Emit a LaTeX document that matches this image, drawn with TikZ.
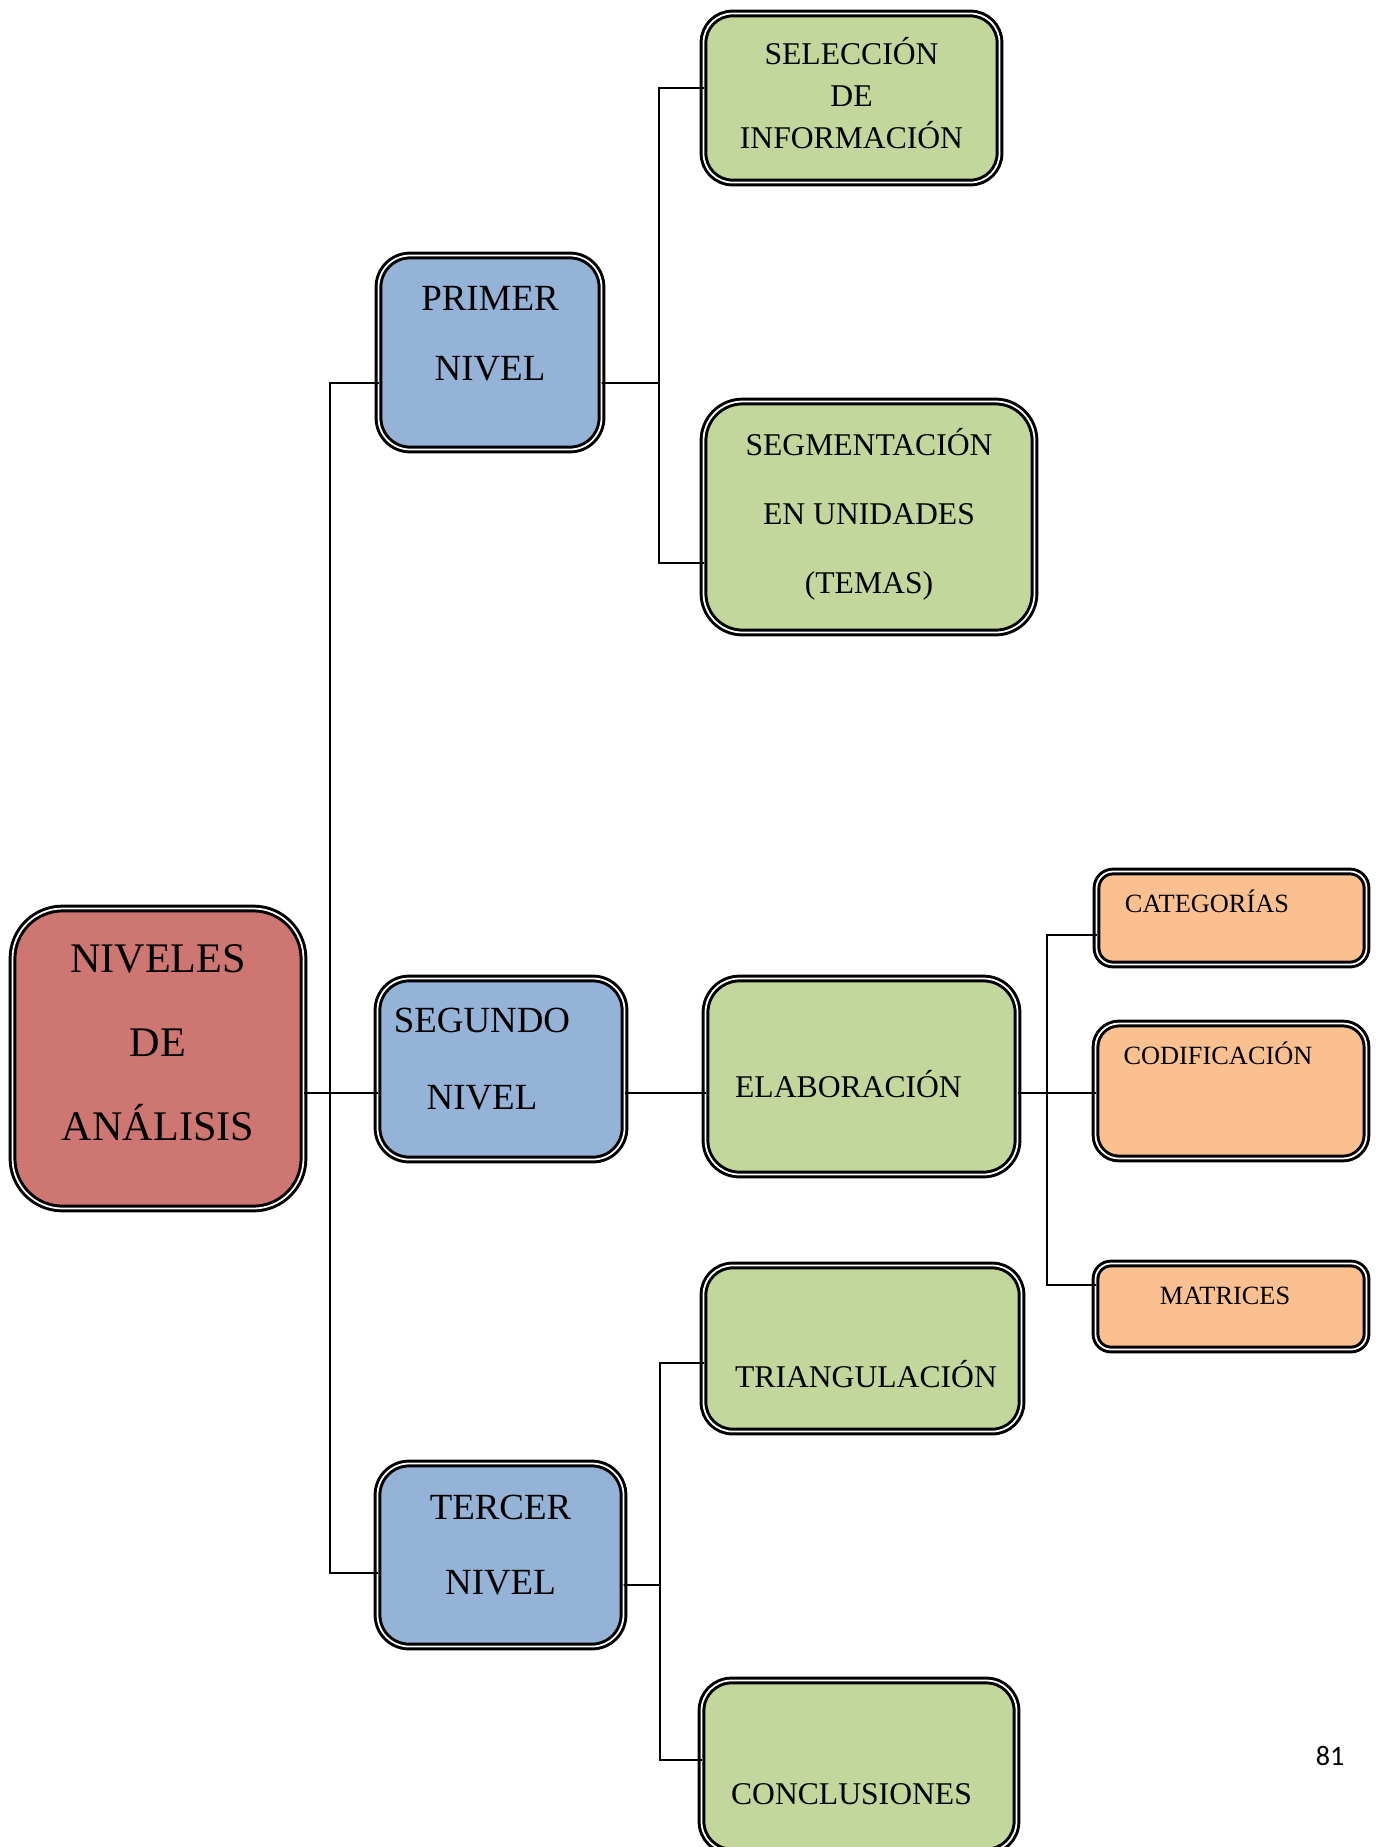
\documentclass[tikz,border=0pt]{standalone}
\usepackage{fontspec}
\setmainfont{Liberation Serif}
\newfontfamily\paginafont{Carlito}
\usetikzlibrary{calc,positioning}
\definecolor{rojo}{RGB}{205,118,114}
\definecolor{azul}{RGB}{149,179,215}
\definecolor{verde}{RGB}{195,214,155}
\definecolor{naranja}{RGB}{250,192,144}

\begin{document}
\begin{tikzpicture}

    \tikzstyle{caja}=[draw,line width=1.7pt,double=white,double distance=1pt,outer sep=0pt,inner sep=0pt]
    \tikzstyle{rotulo}=[align=center,inner sep=0pt]
    \tikzstyle{linea}=[line width=1pt]
     \useasboundingbox (0,0) rectangle (27.54,-36.94);
      \coordinate (origo) at (0,0);

\node (analisis) [caja,fill=rojo,rounded corners=1cm,minimum width=5.82cm,minimum height=6cm,xshift=3.16cm,yshift=-21.17cm,label={[rotulo,font=\fontsize{24}{47.8}\selectfont,yshift=0.32cm]center:{NIVELES\\DE\\ANÁLISIS}}] at (origo) {};

\node (nivel_1) [caja,fill=azul,rounded corners=0.63cm,minimum width=4.46cm,minimum height=3.88cm,xshift=9.8cm,yshift=-7.05cm,label={[rotulo,font=\fontsize{21}{39.8}\selectfont,yshift=0.38cm]center:{PRIMER\\NIVEL}}] at (origo) {};
\node (nivel_2) [caja,fill=azul,rounded corners=0.63cm,minimum width=4.94cm,minimum height=3.62cm,xshift=10.02cm,yshift=-21.38cm,label={[rotulo,font=\fontsize{21}{43.8}\selectfont,xshift=-0.38cm,yshift=0.19cm]center:{SEGUNDO\\NIVEL}}] at (origo) {};
\node (nivel_3) [caja,fill=azul,rounded corners=0.63cm,minimum width=4.92cm,minimum height=3.66cm,xshift=10.01cm,yshift=-31.1cm,label={[rotulo,font=\fontsize{21}{43.2}\selectfont,yshift=0.2cm]center:{TERCER\\NIVEL}}] at (origo) {};

\node (seleccion) [caja,fill=verde,rounded corners=0.58cm,minimum width=5.92cm,minimum height=3.38cm,xshift=17.03cm,yshift=-1.96cm,label={[rotulo,font=\fontsize{18}{23.9}\selectfont,yshift=0.09cm]center:{SELECCIÓN\\DE\\INFORMACIÓN}}] at (origo) {};
\node (segmentacion) [caja,fill=verde,rounded corners=0.78cm,minimum width=6.62cm,minimum height=4.62cm,xshift=17.38cm,yshift=-10.34cm,label={[rotulo,font=\fontsize{18}{39.2}\selectfont,yshift=0.06cm]center:{SEGMENTACIÓN\\EN UNIDADES\\(TEMAS)}}] at (origo) {};
\node (elaboracion) [caja,fill=verde,rounded corners=0.68cm,minimum width=6.24cm,minimum height=3.92cm,xshift=17.23cm,yshift=-21.53cm,label={[rotulo,font=\fontsize{18}{22}\selectfont,xshift=-0.26cm,yshift=-0.15cm]center:{ELABORACIÓN}}] at (origo) {};
\node (triangulacion) [caja,fill=verde,rounded corners=0.58cm,minimum width=6.36cm,minimum height=3.32cm,xshift=17.25cm,yshift=-26.97cm,label={[rotulo,font=\fontsize{18}{22}\selectfont,xshift=0.07cm,yshift=-0.51cm]center:{TRIANGULACIÓN}}] at (origo) {};
\node (conclusiones) [caja,fill=verde,rounded corners=0.6cm,minimum width=6.3cm,minimum height=3.42cm,xshift=17.18cm,yshift=-35.32cm,label={[rotulo,font=\fontsize{18}{22}\selectfont,xshift=-0.15cm,yshift=-0.56cm]center:{CONCLUSIONES}}] at (origo) {};

\node (categorias) [caja,fill=naranja,rounded corners=0.33cm,minimum width=5.4cm,minimum height=1.86cm,xshift=24.63cm,yshift=-18.36cm,label={[rotulo,font=\fontsize{15}{18}\selectfont,xshift=-0.49cm,yshift=0.34cm]center:{CATEGORÍAS}}] at (origo) {};
\node (codificacion) [caja,fill=naranja,rounded corners=0.47cm,minimum width=5.42cm,minimum height=2.7cm,xshift=24.62cm,yshift=-21.82cm,label={[rotulo,font=\fontsize{15}{18}\selectfont,xshift=-0.26cm,yshift=0.76cm]center:{CODIFICACIÓN}}] at (origo) {};
\node (matrices) [caja,fill=naranja,rounded corners=0.31cm,minimum width=5.42cm,minimum height=1.72cm,xshift=24.62cm,yshift=-26.13cm,label={[rotulo,font=\fontsize{15}{18}\selectfont,xshift=-0.12cm,yshift=0.21cm]center:{MATRICES}}] at (origo) {};

\node (pagina) [font=\paginafont\fontsize{16}{19}\selectfont] at (26.6,-35.12) {81};

\coordinate (tronco) at (6.6,-21.86);
\coordinate (rama_1) at (13.18,-7.66);
\coordinate (rama_2) at (20.94,-21.86);
\coordinate (rama_3) at (13.2,-31.7);

\draw[linea] (analisis.east |- tronco) -- (nivel_2.west |- tronco);
\draw[linea] ([yshift=-0.61cm]nivel_1.west) -| (tronco) |- ([yshift=-0.36cm]nivel_3.west);

\draw[linea] ([yshift=-0.61cm]nivel_1.east) -- (rama_1);
\draw[linea] ([yshift=0.2cm]seleccion.west) -| (rama_1) |- ([yshift=-0.92cm]segmentacion.west);

\draw[linea] (nivel_2.east |- tronco) -- (elaboracion.west |- tronco);
\draw[linea] (elaboracion.east |- rama_2) -- (codificacion.west |- rama_2);
\draw[linea] ([yshift=-0.34cm]categorias.west) -| (rama_2) |- ([yshift=0.43cm]matrices.west);

\draw[linea] ([yshift=-0.6cm]nivel_3.east) -- (rama_3);
\draw[linea] ([yshift=-0.29cm]triangulacion.west) -| (rama_3) |- ([yshift=0.12cm]conclusiones.west);

\end{tikzpicture}
\end{document}
